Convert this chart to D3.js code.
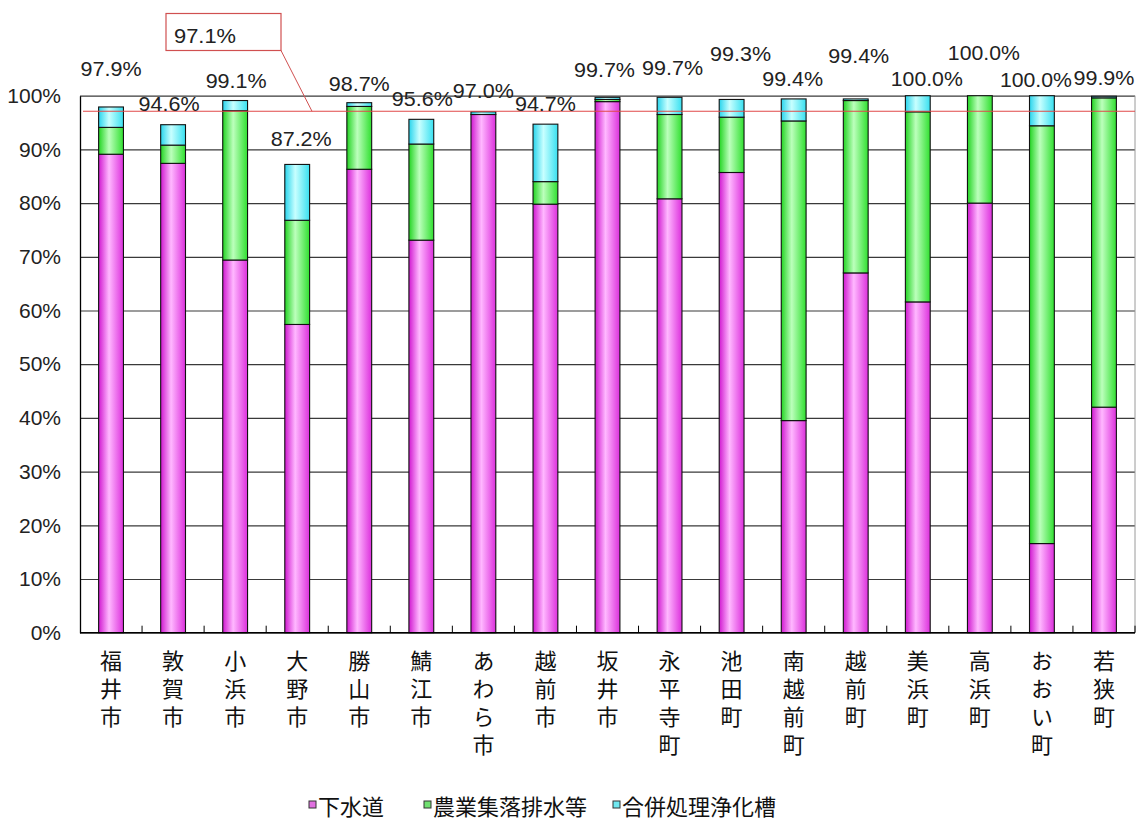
<!DOCTYPE html>
<html><head><meta charset="utf-8">
<script src="https://cdn.jsdelivr.net/npm/d3@7"></script>
<style>body{margin:0;background:#fff}svg{display:block}</style>
</head><body><svg id="c" width="1139" height="823"></svg>
<script>
// ---- data ----
const categories = ["福井市","敦賀市","小浜市","大野市","勝山市","鯖江市","あわら市","越前市","坂井市","永平寺町","池田町","南越前町","越前町","美浜町","高浜町","おおい町","若狭町"];
const gesuido = [89.1, 87.4, 69.4, 57.4, 86.3, 73.1, 96.5, 79.8, 98.9, 80.8, 85.7, 39.5, 67.0, 61.6, 80.0, 16.6, 42.0];
const nogyo   = [ 5.0,  3.4, 27.8, 19.4, 11.7, 17.9,  0.0,  4.2,  0.4, 15.7, 10.3, 55.8, 32.1, 35.4, 20.0, 77.8, 57.6];
const gappei  = [ 3.8,  3.8,  1.9, 10.4,  0.7,  4.6,  0.5, 10.7,  0.4,  3.2,  3.3,  4.1,  0.3,  3.0,  0.0,  5.6,  0.3];
const totalLabels = ["97.9%","94.6%","99.1%","87.2%","98.7%","95.6%","97.0%","94.7%","99.7%","99.7%","99.3%","99.4%","99.4%","100.0%","100.0%","100.0%","99.9%"];
const seriesNames = ["下水道","農業集落排水等","合併処理浄化槽"];
const yTicks = [0,10,20,30,40,50,60,70,80,90,100];
const average = 97.1;
const averageLabel = "97.1%";

// ---- layout (label placement, px) ----
const labelDX = [0,-4,1,4,0,1,0,0,-3,3,9,-1,3,9,4,-6,0];
const labelCY = [68,103,80,138,83,98,90,103,69,67,53,78,55,78,52,79,77];

const svg = d3.select("#c");
const L = 80, R = 1135, T = 95.7, B = 632.7;
const x = d3.scaleBand().domain(categories).range([L, R]).paddingInner(0.6).paddingOuter(0.3);
const y = d3.scaleLinear().domain([0, 100]).range([B, T]);

// gradients
const defs = svg.append("defs");
const grads = [
  {id:"gP", edge:"#d018d0", mid:"#ffb8ff", edge2:"#dc30dc"},
  {id:"gG", edge:"#22d422", mid:"#bcffbc", edge2:"#30e030"},
  {id:"gC", edge:"#28d4ec", mid:"#c8ffff", edge2:"#38e0f0"}
];
grads.forEach(g => {
  const lg = defs.append("linearGradient").attr("id", g.id).attr("x1","0").attr("x2","1").attr("y1","0").attr("y2","0");
  lg.append("stop").attr("offset","0%").attr("stop-color", g.edge);
  lg.append("stop").attr("offset","42%").attr("stop-color", g.mid);
  lg.append("stop").attr("offset","100%").attr("stop-color", g.edge2);
});

// gridlines
svg.append("g").attr("transform", `translate(${L},0)`)
  .call(d3.axisLeft(y).tickValues(yTicks).tickSize(-(R - L)).tickFormat(""))
  .call(g => g.select(".domain").remove())
  .call(g => g.selectAll("line").attr("stroke", "#3a3a3a").attr("stroke-width", 1.2));
// right border
svg.append("line").attr("x1", R).attr("x2", R).attr("y1", T).attr("y2", B).attr("stroke", "#9a9a9a");

// y axis labels
svg.append("g").attr("transform", `translate(${L},0)`)
  .call(d3.axisLeft(y).tickValues(yTicks).tickSize(0).tickPadding(19).tickFormat(d => d + "%"))
  .call(g => g.select(".domain").attr("stroke", "#000").attr("stroke-width", 1.3))
  .call(g => g.selectAll("text").attr("font-family", "'Liberation Sans Narrow','Liberation Sans',Arial,sans-serif")
    .attr("font-size", 21).attr("fill", "#222"));

// stacked bars
const rows = categories.map((c, i) => ({cat: c, a: gesuido[i], b: nogyo[i], c2: gappei[i]}));
const stack = d3.stack().keys(["a", "b", "c2"])(rows);
const fills = ["url(#gP)", "url(#gG)", "url(#gC)"];
stack.forEach((layer, li) => {
  svg.append("g").selectAll("rect").data(layer).join("rect")
    .attr("x", d => x(d.data.cat))
    .attr("width", x.bandwidth())
    .attr("y", d => y(d[1]))
    .attr("height", d => Math.max(0, y(d[0]) - y(d[1])))
    .attr("fill", fills[li])
    .attr("stroke", "#111").attr("stroke-width", 1.1);
});

// bottom axis + inner ticks between categories
svg.append("line").attr("x1", L).attr("x2", R).attr("y1", B).attr("y2", B).attr("stroke", "#000").attr("stroke-width", 1.3);
const step = x.step();
const tickXs = d3.range(categories.length + 1).map(i => L + i * step);
svg.append("g").selectAll("line").data(tickXs.slice(1)).join("line")
  .attr("x1", d => d).attr("x2", d => d).attr("y1", B).attr("y2", B - 7)
  .attr("stroke", "#000").attr("stroke-width", 1);

// category labels (vertical writing mode)
svg.append("g").selectAll("text").data(categories).join("text")
  .attr("x", d => x(d) + x.bandwidth() / 2)
  .attr("y", 650)
  .attr("writing-mode", "vertical-rl")
  .style("writing-mode", "vertical-rl")
  .style("letter-spacing", "6px")
  .attr("font-family", "'Noto Sans CJK JP',sans-serif").attr("font-size", 22).attr("fill", "#111")
  .text(d => d);

// average line
svg.append("line").attr("x1", L + 3).attr("x2", R).attr("y1", y(average)).attr("y2", y(average))
  .attr("stroke", "#e04848").attr("stroke-width", 1.2);
svg.append("line").attr("x1", 281).attr("y1", 50.5).attr("x2", 312).attr("y2", y(average))
  .attr("stroke", "#d05050").attr("stroke-width", 1);
svg.append("rect").attr("x", 166).attr("y", 13.5).attr("width", 115).attr("height", 37)
  .attr("fill", "#fff").attr("stroke", "#d05050").attr("stroke-width", 1.2);
svg.append("text").attr("x", 174).attr("y", 35).attr("dominant-baseline", "central")
  .attr("font-family", "'Liberation Sans Narrow','Liberation Sans',sans-serif").attr("font-size", 21)
  .attr("fill", "#222").attr("textLength", 62).attr("lengthAdjust", "spacingAndGlyphs").text(averageLabel);

// total labels
svg.append("g").selectAll("text").data(totalLabels).join("text")
  .attr("x", (d, i) => x(categories[i]) + x.bandwidth() / 2 + labelDX[i])
  .attr("y", (d, i) => labelCY[i])
  .attr("text-anchor", "middle").attr("dominant-baseline", "central")
  .attr("font-family", "'Liberation Sans Narrow','Liberation Sans',sans-serif").attr("font-size", 21)
  .attr("fill", "#222")
  .attr("textLength", d => d.length > 5 ? 72 : 61).attr("lengthAdjust", "spacingAndGlyphs")
  .text(d => d);

// legend
const legendX = [309, 424, 613];
const legendFill = ["#e070e0", "#70e070", "#70e8f0"];
const lg = svg.append("g");
seriesNames.forEach((n, i) => {
  lg.append("rect").attr("x", legendX[i]).attr("y", 801).attr("width", 7).attr("height", 7)
    .attr("fill", legendFill[i]).attr("stroke", "#333").attr("stroke-width", 1);
  lg.append("text").attr("x", legendX[i] + 9).attr("y", 805).attr("dominant-baseline", "central")
    .attr("font-family", "'Noto Sans CJK JP',sans-serif").attr("font-size", 22).attr("fill", "#111").text(n);
});
</script></body></html>
